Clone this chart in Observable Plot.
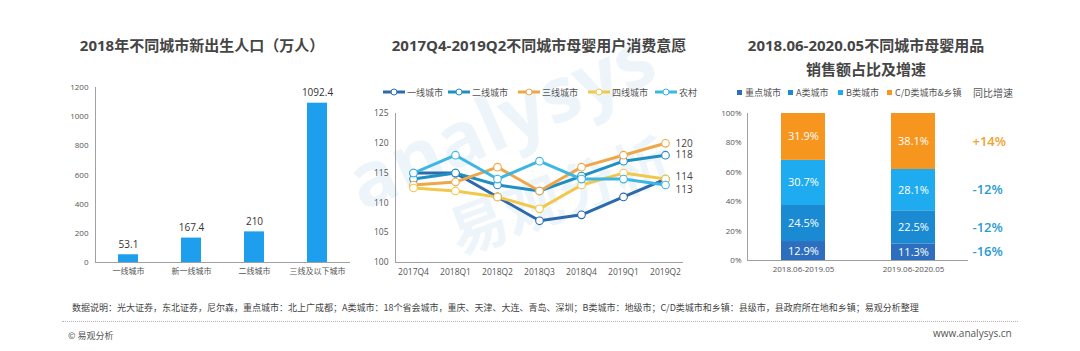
<!DOCTYPE html>
<html><head><meta charset="utf-8">
<script src="https://cdn.jsdelivr.net/npm/d3@7"></script>
<script src="https://cdn.jsdelivr.net/npm/@observablehq/plot@0.6"></script>
<style>
body{margin:0;background:#fff;}
#root{position:relative;width:1080px;height:351px;overflow:hidden;background:#fff;font-family:"Open Sans","Noto Sans CJK SC",sans-serif;color:#444;}
.abs{position:absolute;white-space:nowrap;}
.title{font-size:15px;font-weight:700;color:#454545;text-align:center;line-height:24px;transform:translateX(-50%);}
.leg{font-size:9px;color:#555;display:flex;align-items:center;height:12px;}
#root svg g[aria-label$="tick label"]{fill:#555;}
.wm{color:rgba(90,160,215,0.11);font-weight:700;pointer-events:none;line-height:1;}
</style>
</head><body>
<div id="root">
  <div class="abs wm" style="left:335px;top:150px;font-size:76px;transform:rotate(-24deg);transform-origin:left top;font-family:'Open Sans';">analysys</div>
  <div class="abs wm" style="left:440px;top:205px;font-size:58px;transform:rotate(-20deg);transform-origin:left top;font-family:'Noto Sans CJK SC';">易观分析</div>

  <div class="abs title" style="left:202px;top:33px;">2018年不同城市新出生人口（万人）</div>
  <div class="abs title" style="left:539px;top:33px;">2017Q4-2019Q2不同城市母婴用户消费意愿</div>
  <div class="abs title" style="left:866px;top:33px;">2018.06-2020.05不同城市母婴用品<br>销售额占比及增速</div>

  <div id="c1" class="abs" style="left:40px;top:75px;"></div>
  <div id="c2" class="abs" style="left:350px;top:100px;"></div>
  <div id="c3" class="abs" style="left:700px;top:100px;"></div>
  <div id="leg2"></div>
  <div id="leg3"></div>

  <div class="abs" style="left:72px;top:301px;font-size:9px;color:#444;font-family:'Noto Sans CJK SC',sans-serif;">数据说明：光大证券，东北证券，尼尔森，重点城市：北上广成都；A类城市：18个省会城市，重庆、天津、大连、青岛、深圳；B类城市：地级市；C/D类城市和乡镇：县级市，县政府所在地和乡镇；易观分析整理</div>
  <div class="abs" style="left:62px;top:321px;width:956px;border-top:1px dotted #b5b5b5;"></div>
  <div class="abs" style="left:68px;top:329px;font-size:9px;color:#555;font-family:'Noto Sans CJK SC',sans-serif;">© 易观分析</div>
  <div class="abs" style="left:933px;top:326px;font-size:10px;color:#555;">www.analysys.cn</div>
</div>
<script>
// ---- Chart 1 data ----
const cityTiers = ["一线城市", "新一线城市", "二线城市", "三线及以下城市"];
const births = [53.1, 167.4, 210, 1092.4];
const birthTicks = [0, 200, 400, 600, 800, 1000, 1200];

// ---- Chart 2 data ----
const quarters = ["2017Q4", "2018Q1", "2018Q2", "2018Q3", "2018Q4", "2019Q1", "2019Q2"];
const lineCities = ["一线城市", "二线城市", "三线城市", "四线城市", "农村"];
const tier1 = [115, 115, 111, 107, 108, 111, 114];
const tier2 = [114, 115, 113, 112, 114.5, 117, 118];
const tier3 = [113, 113.5, 116, 112, 116, 118, 120];
const tier4 = [112.5, 112, 111, 109, 113, 115, 114];
const rural = [115, 118, 114, 117, 114, 114, 113];
const lineColors = ["#2c6aab", "#1f8ec2", "#eea748", "#f2c84b", "#3cb6e3"];
const willTicks = [100, 105, 110, 115, 120, 125];
const endLabelTop = ["三线城市", "二线城市"];
const endLabelMid = ["四线城市"];
const endLabelLow = ["农村"];

// ---- Chart 3 data ----
const periods = ["2018.06-2019.05", "2019.06-2020.05"];
const segments = ["重点城市", "A类城市", "B类城市", "C/D类城市&乡镇"];
const share1 = [12.9, 24.5, 30.7, 31.9];
const share2 = [11.3, 22.5, 28.1, 38.1];
const growth = ["-16%", "-12%", "-12%", "+14%"];
const segColors = ["#2d6fbe", "#1a8ad2", "#1eabef", "#f7961f"];
const shareTicks = [0, 20, 40, 60, 80, 100];

const baseStyle = {fontSize: "8px", fontFamily: "'Open Sans','Noto Sans CJK SC',sans-serif", color: "#a0a0a0", background: "transparent", overflow: "visible"};

// Chart 1
const births1 = cityTiers.map((c, i) => ({city: c, v: births[i]}));
document.getElementById("c1").append(Plot.plot({
  width: 330, height: 215,
  marginLeft: 55, marginRight: 20, marginTop: 12, marginBottom: 28,
  style: baseStyle,
  x: {domain: cityTiers, paddingInner: 0.68, paddingOuter: 0.36, tickSize: 0, tickPadding: 6, label: null},
  y: {domain: [0, 1200], ticks: birthTicks, tickFormat: d => String(d), tickSize: 0, tickPadding: 7, label: null, line: true},
  marks: [
    Plot.barY(births1, {x: "city", y: "v", fill: "#1e9fee"}),
    Plot.ruleY([0], {stroke: "#a0a0a0"}),
    Plot.text(births1, {x: "city", y: "v", text: d => String(d.v), dy: -10, fontSize: 10, fill: "#333"})
  ]
}));

// Chart 2
const seriesVals = [tier1, tier2, tier3, tier4, rural];
const lastQ = quarters[quarters.length - 1];
const lineRows = [];
lineCities.forEach((c, i) => quarters.forEach((q, j) => lineRows.push({city: c, q, v: seriesVals[i][j]})));
const endRow = c => ({city: c, q: lastQ, v: seriesVals[lineCities.indexOf(c)][quarters.length - 1]});
const labelOpts = {x: "q", y: "v", text: d => String(d.v), dx: 10, textAnchor: "start", fontSize: 10, fill: "#444"};
document.getElementById("c2").append(Plot.plot({
  width: 350, height: 185,
  marginLeft: 45, marginRight: 17, marginTop: 13, marginBottom: 23,
  style: {...baseStyle, fontSize: "8.5px"},
  x: {type: "point", domain: quarters, padding: 0.4, tickSize: 0, tickPadding: 6, label: null},
  y: {domain: [100, 125], ticks: willTicks, tickSize: 0, tickPadding: 7, label: null, line: true},
  color: {domain: lineCities, range: lineColors},
  marks: [
    Plot.ruleY([100], {stroke: "#a0a0a0"}),
    Plot.line(lineRows, {x: "q", y: "v", z: "city", stroke: "city", strokeWidth: 3}),
    Plot.dot(lineRows, {x: "q", y: "v", stroke: "city", fill: "white", r: 3.8, strokeWidth: 1.1}),
    Plot.text(endLabelTop.map(endRow), labelOpts),
    Plot.text(endLabelMid.map(endRow), {...labelOpts, dy: -2}),
    Plot.text(endLabelLow.map(endRow), {...labelOpts, dy: 4.5})
  ]
}));

// Legend 2
const leg2X = [383, 448, 518, 588, 655];
const leg2 = document.getElementById("leg2");
lineCities.forEach((c, i) => {
  const d = document.createElement("div");
  d.className = "abs leg";
  d.style.left = leg2X[i] + "px"; d.style.top = "86px"; d.style.fontSize = "9px";
  d.style.fontFamily = "'Noto Sans CJK SC',sans-serif";
  d.innerHTML = `<svg width="22" height="10" style="margin-right:2px"><line x1="0" y1="5" x2="22" y2="5" stroke="${lineColors[i]}" stroke-width="3"/><circle cx="11" cy="5" r="3" fill="white" stroke="${lineColors[i]}" stroke-width="1"/></svg>${c}`;
  leg2.append(d);
});

// Chart 3
const shares = [share1, share2];
const stackRows = [];
periods.forEach((p, pi) => {
  let acc = 0;
  segments.forEach((s, si) => {
    const v = shares[pi][si];
    stackRows.push({period: p, seg: s, v, mid: acc + v / 2, g: growth[si]});
    acc += v;
  });
});
const lastRows = stackRows.filter(d => d.period === periods[1]);
document.getElementById("c3").append(Plot.plot({
  width: 340, height: 185,
  marginLeft: 47, marginRight: 72, marginTop: 13, marginBottom: 25,
  style: baseStyle,
  x: {domain: periods, paddingInner: 0.6, paddingOuter: 0.3, tickSize: 0, tickPadding: 6, label: null},
  y: {domain: [0, 100], ticks: shareTicks, tickFormat: d => d + "%", tickSize: 0, tickPadding: 6, label: null, line: true},
  color: {domain: segments, range: segColors},
  marks: [
    Plot.barY(stackRows, {x: "period", y: "v", fill: "seg"}),
    Plot.ruleY([0], {stroke: "#a0a0a0"}),
    Plot.text(stackRows, {x: "period", y: "mid", text: d => d.v.toFixed(1) + "%", fill: "white", fontSize: 11}),
    Plot.text(lastRows.filter(d => d.g.startsWith("+")), {x: "period", y: "mid", text: "g", dx: 59, textAnchor: "start", fill: "#f2a22e", fontSize: 13, fontWeight: 600}),
    Plot.text(lastRows.filter(d => !d.g.startsWith("+")), {x: "period", y: "mid", text: "g", dx: 59, textAnchor: "start", fill: "#2a9bd0", fontSize: 13, fontWeight: 600})
  ]
}));

// Legend 3
const leg3X = [737, 788, 838, 887];
const leg3 = document.getElementById("leg3");
segments.forEach((s, i) => {
  const d = document.createElement("div");
  d.className = "abs leg";
  d.style.left = leg3X[i] + "px"; d.style.top = "86px";
  d.style.fontFamily = "'Noto Sans CJK SC',sans-serif";
  d.innerHTML = `<span style="display:inline-block;width:5px;height:5px;background:${segColors[i]};margin-right:3px"></span>${s}`;
  leg3.append(d);
});
const gl = document.createElement("div");
gl.className = "abs leg";
gl.style.left = "973px"; gl.style.top = "86px"; gl.style.fontSize = "10px";
gl.style.fontFamily = "'Noto Sans CJK SC',sans-serif";
gl.textContent = "同比增速";
leg3.append(gl);
</script>
</body></html>
